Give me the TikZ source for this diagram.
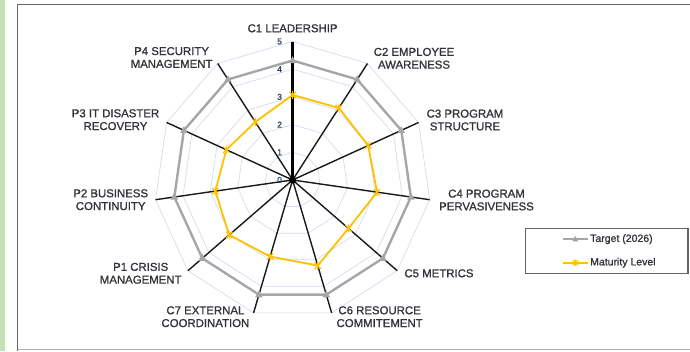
\documentclass[tikz,border=0pt]{standalone}
\usepackage{fontspec}
\setmainfont{Liberation Sans}
\newfontfamily\lblfont{Liberation Sans}[FakeBold=1.2]
\usetikzlibrary{calc}
\definecolor{stripgreen}{HTML}{C5E0B4}
\definecolor{framegray}{HTML}{666666}
\definecolor{gridblue}{HTML}{D3DCEE}
\definecolor{targetgray}{HTML}{A6A6A6}
\definecolor{matyellow}{HTML}{FFC000}
\definecolor{txt}{HTML}{33333A}
\definecolor{lvl}{HTML}{34405E}
\tikzset{
  axislabel/.style={font=\lblfont\fontsize{11.4}{12.8}\selectfont, text=txt, align=center, inner sep=0pt},
  lvllabel/.style={font=\lblfont\fontsize{8.5}{9}\selectfont, text=lvl, inner sep=0pt},
  legtext/.style={font=\lblfont\fontsize{10.5}{12}\selectfont, text=txt, anchor=west, inner sep=0pt},
  gridline/.style={draw=gridblue, line width=0.7pt},
  axisline/.style={draw=black!90, line width=1.4pt},
  mainaxis/.style={draw=black, line width=2.6pt},
  targetline/.style={draw=targetgray, line width=2.4pt, line join=round},
  matline/.style={draw=matyellow, line width=1.8pt, line join=round},
  tri/.pic={\fill[targetgray] (0,-4.2) -- (3.8,2.6) -- (-3.8,2.6) -- cycle;},
  starmark/.pic={\draw[matyellow, line width=1.1pt] (-3.2,-3.2) -- (3.2,3.2) (-3.2,3.2) -- (3.2,-3.2) (0,-4) -- (0,4);}
}
\begin{document}
\begin{tikzpicture}[x=1pt,y=-1pt]
\useasboundingbox (0,0) rectangle (690,351);
% background strip and frame
\fill[stripgreen] (0,0) rectangle (5.2,351);
\draw[framegray, line width=1.5pt] (17.6,351) -- (17.6,4.6) -- (690,4.6);
\draw[black!30, line width=1.2pt] (17.6,349.6) -- (690,349.6);

\coordinate (O) at (292.6,180);
% grid polygons
\foreach \l in {1,...,5}{
  \draw[gridline] ({292.6},{180-\l*27.7})
    \foreach \k in {1,...,10}{ -- ({292.6+\l*27.7*sin(\k*360/11)},{180-\l*27.7*cos(\k*360/11)}) } -- cycle;
}
% axis end points, target and maturity points
\foreach \n/\v [count=\i from 0] in {C1/3.07,C2/3.09,C3/3.0,C4/3.08,C5/2.67,C6/3.22,C7/2.88,P1/3.03,P2/2.82,P3/2.63,P4/2.49}{
  \pgfmathsetmacro\ang{\i*360/11}
  \coordinate (ax\n) at ({292.6+138.5*sin(\ang)},{180-138.5*cos(\ang)});
  \coordinate (t\n) at ({292.6+119.5*sin(\ang)},{180-119.5*cos(\ang)});
  \coordinate (m\n) at ({292.6+27.7*\v*sin(\ang)},{180-27.7*\v*cos(\ang)});
}
% axes
\foreach \n in {C2,C3,C4,C5,C6,C7,P1,P2,P3,P4}{ \draw[axisline] (O) -- (ax\n); }
\draw[mainaxis] (O) -- (axC1);
% target series
\draw[targetline] (tC1) -- (tC2) -- (tC3) -- (tC4) -- (tC5) -- (tC6) -- (tC7) -- (tP1) -- (tP2) -- (tP3) -- (tP4) -- cycle;
% maturity series
\draw[matline] (mC1) -- (mC2) -- (mC3) -- (mC4) -- (mC5) -- (mC6) -- (mC7) -- (mP1) -- (mP2) -- (mP3) -- (mP4) -- cycle;
\foreach \n in {C1,C2,C3,C4,C5,C6,C7,P1,P2,P3,P4}{
  \pic at (t\n) {tri};
  \pic at (m\n) {starmark};
}
\fill[black] (O) circle (3.6);
% level labels
\foreach \l in {0,...,5}{ \node[lvllabel] (lv\l) at (279.6,{180-\l*27.7}) {\l}; }
% axis labels
\node[axislabel] (lC1) at (292.6,28.3) {C1 LEADERSHIP};
\node[axislabel] (lC2) at (414,58.3) {C2 EMPLOYEE\\AWARENESS};
\node[axislabel] (lC3) at (465,120) {C3 PROGRAM\\STRUCTURE};
\node[axislabel] (lC4) at (486.5,200) {C4 PROGRAM\\PERVASIVENESS};
\node[axislabel] (lC5) at (439,273.3) {C5 METRICS};
\node[axislabel] (lC6) at (379.6,316.7) {C6 RESOURCE\\COMMITEMENT};
\node[axislabel] (lC7) at (205.4,316.7) {C7 EXTERNAL\\COORDINATION};
\node[axislabel] (lP1) at (140.7,273.3) {P1 CRISIS\\MANAGEMENT};
\node[axislabel] (lP2) at (110.7,199.7) {P2 BUSINESS\\CONTINUITY};
\node[axislabel] (lP3) at (115.5,119.7) {P3 IT DISASTER\\RECOVERY};
\node[axislabel] (lP4) at (171.6,57.5) {P4 SECURITY\\MANAGEMENT};
% legend
\draw[framegray, line width=1.4pt] (525.6,228.2) rectangle (688,273.4);
\coordinate (lg1a) at (562.7,239.2); \coordinate (lg1b) at (588,239.2);
\coordinate (lg2a) at (562.7,262.7); \coordinate (lg2b) at (588,262.7);
\draw[targetgray, line width=2pt] (lg1a) -- (lg1b);
\pic[scale=0.8] at ($(lg1a)!0.5!(lg1b)$) {tri};
\draw[matyellow, line width=1.8pt] (lg2a) -- (lg2b);
\pic[scale=0.8] at ($(lg2a)!0.5!(lg2b)$) {starmark};
\node[legtext] (leg1) at (590,239.2) {Target (2026)};
\node[legtext] (leg2) at (590,262.7) {Maturity Level};
\end{tikzpicture}
\end{document}
